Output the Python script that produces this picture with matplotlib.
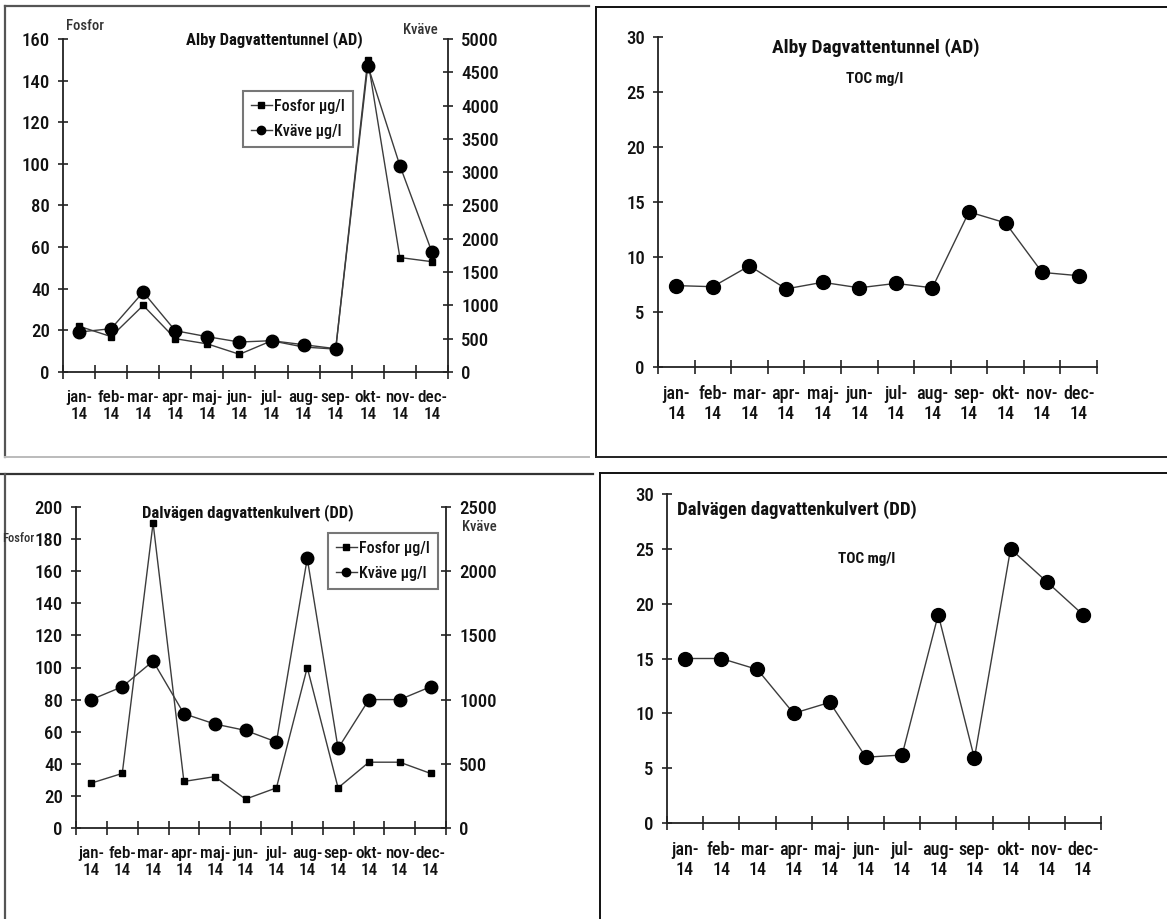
import matplotlib
matplotlib.use("Agg")
import matplotlib.pyplot as plt

plt.rcParams["font.family"] = ["Roboto Condensed", "Liberation Sans Narrow", "Liberation Sans", "DejaVu Sans"]
plt.rcParams["font.weight"] = "medium"

W, H = 1167, 919

# ---- data -------------------------------------------------------------
months = ["jan-\n14", "feb-\n14", "mar-\n14", "apr-\n14", "maj-\n14", "jun-\n14",
          "jul-\n14", "aug-\n14", "sep-\n14", "okt-\n14", "nov-\n14", "dec-\n14"]

ad_fosfor = [22, 17, 32, 16, 13.5, 8.5, 15, 12, 11, 150, 55, 53]
ad_kvave = [600, 650, 1200, 620, 530, 450, 470, 410, 350, 4600, 3100, 1800]
ad_toc = [7.4, 7.3, 9.2, 7.1, 7.7, 7.2, 7.6, 7.2, 14.1, 13.1, 8.6, 8.3]

dd_fosfor = [28, 34, 190, 29, 32, 18, 25, 100, 25, 41, 41, 34]
dd_kvave = [1000, 1100, 1300, 890, 810, 760, 670, 2100, 620, 1000, 1000, 1100]
dd_toc = [15, 15, 14, 10, 11, 6, 6.2, 19, 5.9, 25, 22, 19]

ad_fosfor_ticks = list(range(0, 161, 20))
ad_kvave_ticks = list(range(0, 5001, 500))
dd_fosfor_ticks = list(range(0, 201, 20))
dd_kvave_ticks = list(range(0, 2501, 500))
toc_ticks = list(range(0, 31, 5))

# ---- style ------------------------------------------------------------
INK = "#111111"
SPINE = "#222222"
LINE = "#3c3c3c"
TICK_FS = 13.5

fig = plt.figure(figsize=(W / 100, H / 100), dpi=100)
fig.patch.set_facecolor("white")


def rect(x0, y0, x1, y1):
    return [x0 / W, 1 - y1 / H, (x1 - x0) / W, (y1 - y0) / H]


def fxy(x, y):
    return x / W, 1 - y / H


# panel frames
bg = fig.add_axes([0, 0, 1, 1], zorder=-10)
bg.set_xlim(0, W)
bg.set_ylim(H, 0)
bg.axis("off")
bg.plot([5, 589], [6, 6], color="#555555", lw=1.6)
bg.plot([5, 5], [6, 457], color="#555555", lw=1.6)
bg.plot([5, 589], [457, 457], color="#bbbbbb", lw=1.4)
bg.plot([596, 1167], [7, 7], color="#111111", lw=1.4)
bg.plot([596, 596], [7, 457], color="#111111", lw=1.4)
bg.plot([596, 1167], [457, 457], color="#222222", lw=1.4)
bg.plot([0, 593], [474, 474], color="#333333", lw=1.6)
bg.plot([5, 5], [474, 919], color="#555555", lw=1.6)
bg.plot([600, 1167], [473, 473], color="#111111", lw=1.4)
bg.plot([600, 600], [473, 919], color="#111111", lw=1.4)

x = [i + 0.5 for i in range(len(months))]


def style_axes(ax, yticks, ymax, xfs):
    ax.set_xlim(0, 12)
    ax.set_ylim(0, ymax)
    ax.set_xticks(range(13))
    ax.set_xticklabels([])
    ax.set_xticks(x, minor=True)
    ax.set_xticklabels(months, minor=True, fontsize=xfs, color=INK, linespacing=1.15)
    ax.tick_params(axis="x", which="major", direction="inout", length=10, width=1.2, color=SPINE)
    ax.tick_params(axis="x", which="minor", length=0, pad=13)
    ax.set_yticks(yticks)
    ax.tick_params(axis="y", direction="inout", length=7, width=1.2, color=SPINE,
                   labelsize=TICK_FS, labelcolor=INK, pad=6)
    for side in ("top", "right"):
        ax.spines[side].set_visible(False)
    for side in ("left", "bottom"):
        ax.spines[side].set_color(SPINE)
        ax.spines[side].set_linewidth(1.3)
    ax.patch.set_visible(False)


def style_twin(tw, yticks, ymax):
    tw.set_ylim(0, ymax)
    tw.set_yticks(yticks)
    tw.tick_params(axis="y", direction="inout", length=7, width=1.2, color=SPINE,
                   labelsize=TICK_FS, labelcolor=INK, pad=6)
    for side in ("top", "left", "bottom"):
        tw.spines[side].set_visible(False)
    tw.spines["right"].set_color(SPINE)
    tw.spines["right"].set_linewidth(1.3)


def dual_panel(box, fosfor, kvave, fticks, fmax, kticks, kmax, leg_anchor):
    ax = fig.add_axes(rect(*box))
    style_axes(ax, fticks, fmax, 12.3)
    tw = ax.twinx()
    style_twin(tw, kticks, kmax)
    ax.plot(x, fosfor, color=LINE, lw=1.0, marker="s", ms=5,
            mfc="black", mec="black", clip_on=False, zorder=3)
    tw.plot(x, kvave, color=LINE, lw=1.0, marker="o", ms=9,
            mfc="black", mec="black", clip_on=False, zorder=3)
    lf_h = plt.Line2D([], [], color=LINE, lw=1.0, marker="s", ms=5, mfc="black", mec="black")
    lk_h = plt.Line2D([], [], color=LINE, lw=1.0, marker="o", ms=6, mfc="black", mec="black")
    leg = tw.legend([lf_h, lk_h], ["Fosfor µg/l", "Kväve µg/l"], loc="upper left",
                    bbox_to_anchor=leg_anchor, borderaxespad=0, frameon=True,
                    fancybox=False, edgecolor="#555555", fontsize=11.5,
                    handlelength=1.3, handletextpad=0.15, borderpad=0.5,
                    labelspacing=0.6)
    leg.get_frame().set_linewidth(1.5)
    for t in leg.get_texts():
        t.set_color(INK)
    return ax, tw


def toc_panel(box, toc):
    ax = fig.add_axes(rect(*box))
    style_axes(ax, toc_ticks, 30, 13)
    ax.plot(x, toc, color=LINE, lw=1.0, marker="o", ms=10,
            mfc="black", mec="black", clip_on=False, zorder=3)
    return ax


# Alby Dagvattentunnel: fosfor and kväve
dual_panel((63, 39, 448, 372), ad_fosfor, ad_kvave, ad_fosfor_ticks, 160,
           ad_kvave_ticks, 5000, (0.4675, 0.844))
fig.text(*fxy(274, 40), "Alby Dagvattentunnel (AD)", fontsize=12, fontweight="bold",
         ha="center", va="center", color=INK)
fig.text(*fxy(66, 26), "Fosfor", fontsize=10.5, ha="left", va="center", color="#333333")
fig.text(*fxy(438, 30), "Kväve", fontsize=10.5, ha="right", va="center", color="#333333")

# Alby Dagvattentunnel: TOC
toc_panel((658, 37, 1097, 367), ad_toc)
fig.text(*fxy(876, 48), "Alby Dagvattentunnel (AD)", fontsize=14, fontweight="bold",
         ha="center", va="center", color=INK)
fig.text(*fxy(875, 79), "TOC mg/l", fontsize=11, fontweight="bold",
         ha="center", va="center", color=INK)

# Dalvägen dagvattenkulvert: fosfor and kväve
dual_panel((76, 507, 446, 828), dd_fosfor, dd_kvave, dd_fosfor_ticks, 200,
           dd_kvave_ticks, 2500, (0.681, 0.919))
fig.text(*fxy(248, 513), "Dalvägen dagvattenkulvert (DD)", fontsize=12, fontweight="bold",
         ha="center", va="center", color=INK)
fig.text(*fxy(34, 538), "Fosfor", fontsize=9, ha="right", va="center", color="#333333")
fig.text(*fxy(462, 527), "Kväve", fontsize=10.5, ha="left", va="center", color="#333333")

# Dalvägen dagvattenkulvert: TOC
toc_panel((667, 494, 1101, 823), dd_toc)
fig.text(*fxy(677, 510), "Dalvägen dagvattenkulvert (DD)", fontsize=13.6, fontweight="bold",
         ha="left", va="center", color=INK)
fig.text(*fxy(867, 559), "TOC mg/l", fontsize=11, fontweight="bold",
         ha="center", va="center", color=INK)

fig.savefig("out.png", dpi=100, facecolor="white")
